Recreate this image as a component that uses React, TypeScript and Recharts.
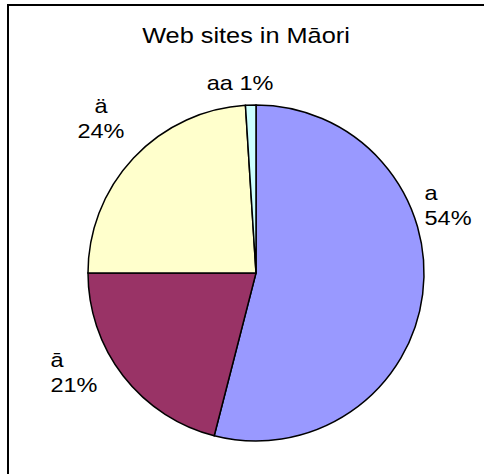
import { PieChart, Pie, Cell } from 'recharts'

const title = 'Web sites in Māori'
const categories = ['a', 'ā', 'ä', 'aa']
const shares = [54, 21, 24, 1]
const sliceColors = ['#9999FF', '#993366', '#FFFFCC', '#CCFFFF']

const data = categories.map((name, i) => ({ name, value: shares[i] }))

const RADIAN = Math.PI / 180
const FONT = '"Liberation Sans", Arial, sans-serif'
const STRETCH = 1.12

// the original labels were dragged by hand, so nudge them off the radial point
const labelNudge = [
    { dx: -18, dy: -97, anchor: 'start', oneLine: false },
    { dx: -57, dy: -21, anchor: 'start', oneLine: false },
    { dx: -18, dy: -31, anchor: 'middle', oneLine: false },
    { dx: -10, dy: 5, anchor: 'middle', oneLine: true },
]

function renderLabel(props: any) {
    const { cx, cy, midAngle, outerRadius, percent, index, name } = props
    const r = outerRadius + 20
    const nudge = labelNudge[index]
    const x = cx + r * Math.cos(-midAngle * RADIAN) + nudge.dx
    const y = cy + r * Math.sin(-midAngle * RADIAN) + nudge.dy
    const pct = `${Math.round(percent * 100)}%`
    return (
        <text
            transform={`translate(${x}, ${y}) scale(${STRETCH}, 1)`}
            textAnchor={nudge.anchor}
            fontFamily={FONT}
            fontSize={21}
            fill="#000"
        >
            {nudge.oneLine ? (
                `${name} ${pct}`
            ) : (
                <>
                    <tspan x={0} y={0}>{name}</tspan>
                    <tspan x={0} y={25}>{pct}</tspan>
                </>
            )}
        </text>
    )
}

export default function App() {
    return (
        <div
            style={{
                position: 'fixed',
                left: 0,
                top: 0,
                width: 484,
                height: 474,
                overflow: 'hidden',
                background: '#fff',
            }}
        >
            <div
                style={{
                    position: 'absolute',
                    left: 7,
                    top: 4,
                    width: 600,
                    height: 600,
                    borderTop: '2px solid #000',
                    borderLeft: '2px solid #000',
                }}
            />
            <div
                style={{
                    position: 'absolute',
                    left: 0,
                    top: 25,
                    width: 492,
                    textAlign: 'center',
                    fontFamily: FONT,
                    fontSize: 22,
                    lineHeight: '22px',
                    transform: `scaleX(1.15)`,
                }}
            >
                {title}
            </div>
            <div style={{ position: 'absolute', left: 0, top: 0 }}>
                <PieChart width={484} height={474}>
                    <Pie
                        data={data}
                        dataKey="value"
                        nameKey="name"
                        cx={251}
                        cy={268}
                        outerRadius={168}
                        startAngle={90}
                        endAngle={-270}
                        stroke="#000"
                        strokeWidth={1.5}
                        labelLine={false}
                        label={renderLabel}
                        isAnimationActive={false}
                    >
                        {data.map((entry, index) => (
                            <Cell key={entry.name} fill={sliceColors[index]} />
                        ))}
                    </Pie>
                </PieChart>
            </div>
        </div>
    )
}
